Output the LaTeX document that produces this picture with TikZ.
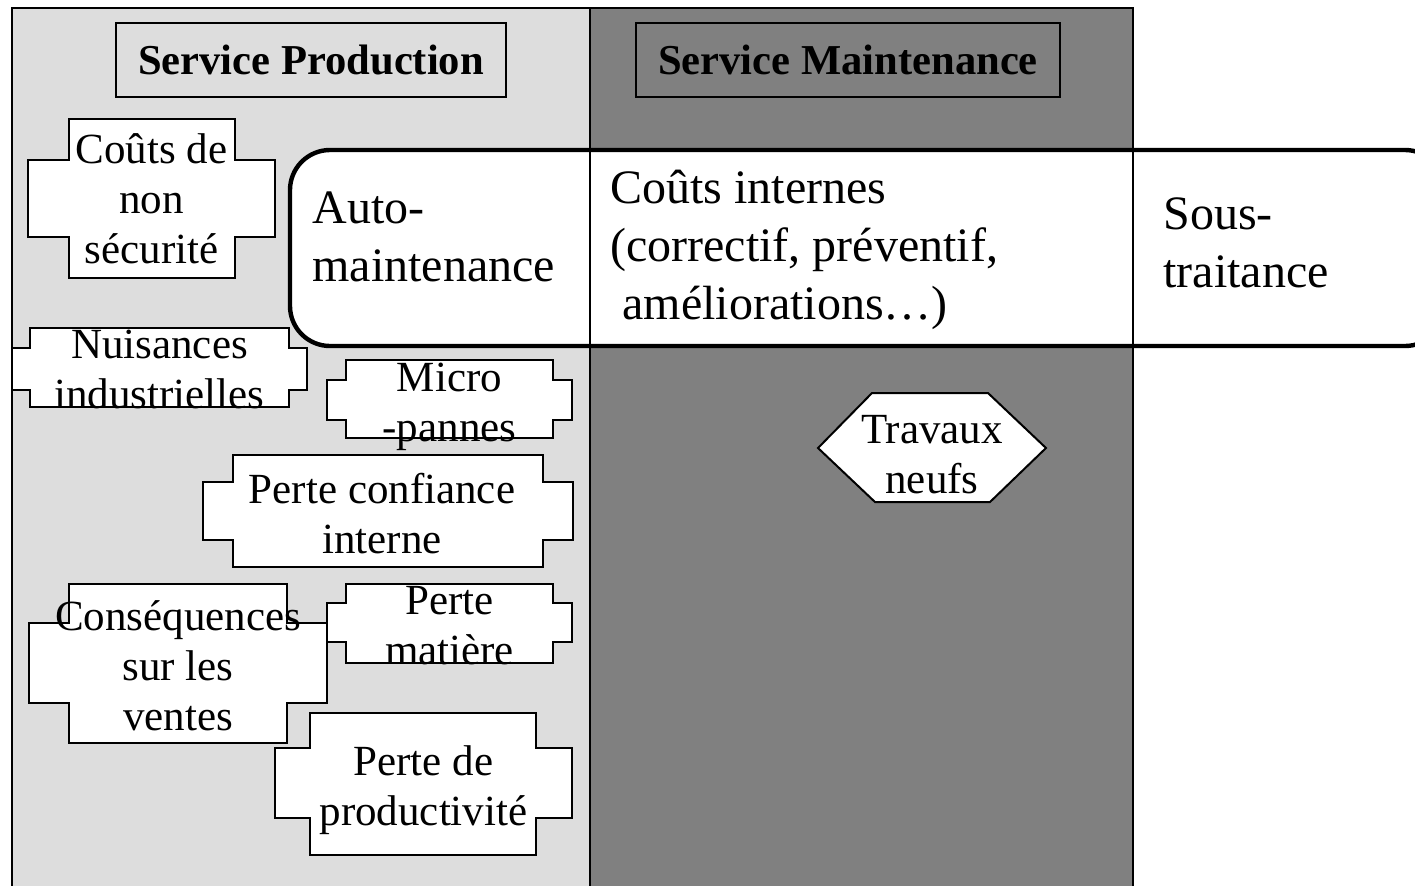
\documentclass[tikz,border=0pt]{standalone}
\usepackage{fontspec}
\setmainfont{Liberation Serif}

\definecolor{prodgrey}{HTML}{DDDDDD}
\definecolor{maintgrey}{HTML}{808080}

\newcommand{\notchbox}[9]{%
	\draw[notchline] (#2,#6) -- (#3,#6) -- (#3,#7) -- (#5,#7) -- (#5,#8) -- (#3,#8) -- (#3,#9)
		-- (#2,#9) -- (#2,#8) -- (#4,#8) -- (#4,#7) -- (#2,#7) -- cycle;
	\node[boxtext] (#1) at ({(#4+#5)/2},{(#6+#9)/2})}

\begin{document}
\begin{tikzpicture}[x=0.5pt,y=-0.5pt,
	frame/.style={draw=black,line width=1pt},
	header/.style={draw=black,line width=1pt,minimum height=37pt,inner sep=0pt,
		font=\fontsize{21.3}{25}\selectfont\bfseries},
	notchline/.style={draw=black,fill=white,line width=1.3pt,line join=miter},
	boxtext/.style={align=center,inner sep=0pt,font=\fontsize{21.5}{25}\selectfont},
	bigtext/.style={align=left,inner sep=0pt,anchor=west,font=\fontsize{24}{29}\selectfont},
	costband/.style={draw=black,fill=white,line width=2.2pt,rounded corners=20pt}]
	\useasboundingbox (0,0) rectangle (1415,885);
	\clip (0,0) rectangle (1415,885);
	
	\fill[prodgrey] (12,8) rectangle (590,900);
	\fill[maintgrey] (590,8) rectangle (1133,900);
	\draw[frame] (12,900) -- (12,8) -- (1133,8) -- (1133,900);
	
	\node[header,minimum width=195pt] (prod) at (311,60) {Service Production};
	\node[header,minimum width=212pt] (maint) at (848,60) {Service Maintenance};
	
	\notchbox{securite}{69}{235}{28}{275}{119}{160}{237}{278} {Coûts de\\non\\sécurité};
	\notchbox{nuisances}{30}{289}{12}{307}{328}{348}{390}{407} [yshift=-1pt] {Nuisances\\industrielles};
	\notchbox{micro}{346}{553}{327}{572}{360}{380}{420}{438} [yshift=-4pt] {Micro\\-pannes};
	\notchbox{confiance}{233}{543}{203}{573}{455}{482}{540}{567} [xshift=-3pt,yshift=-1.5pt] {Perte confiance\\interne};
	\notchbox{ventes}{69}{287}{29}{327}{584}{623}{703}{743} [yshift=-1pt] {Conséquences\\sur les\\ventes};
	\notchbox{matiere}{346}{553}{327}{572}{584}{603}{642}{663} [yshift=-1pt] {Perte\\matière};
	\notchbox{productivite}{310}{536}{275}{572}{713}{748}{818}{855} [yshift=-3pt] {Perte de\\productivité};
	
	\draw[costband] (290,150) rectangle (1445,346);
	\draw[frame] (590,8) -- (590,900);
	\draw[frame] (1133,8) -- (1133,900);
	
	\node[bigtext] (auto) at (312,237) {Auto-\\maintenance};
	\node[bigtext] (internes) at (610,250) {Coûts internes\\(correctif, préventif,\\\hspace*{6pt}améliorations…)};
	\node[bigtext] (sous) at (1163,243) {Sous-\\traitance};
	
	\draw[notchline,line width=1pt] (818,448) -- (872,393) -- (988,393) -- (1046,448) -- (990,502) -- (875,502) -- cycle;
	\node[boxtext] (travaux) at (932,455) {Travaux\\neufs};
\end{tikzpicture}
\end{document}
